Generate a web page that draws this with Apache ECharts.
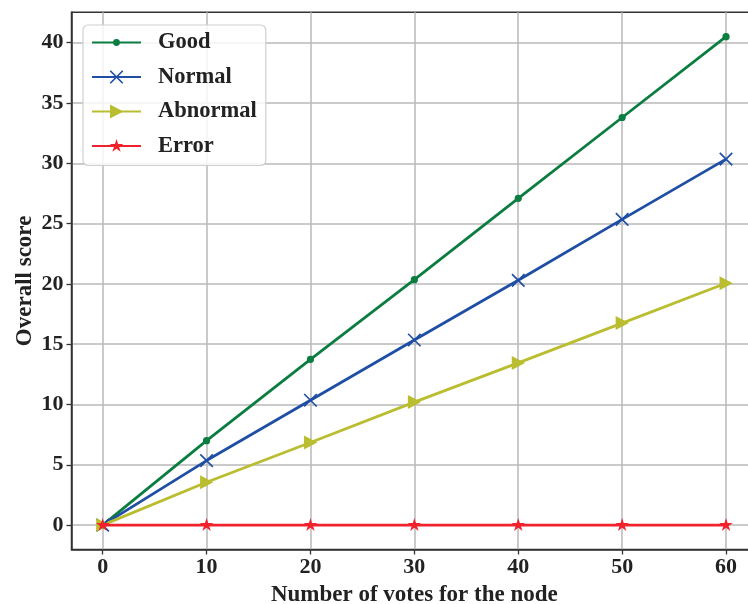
<!DOCTYPE html>
<html><head><meta charset="utf-8">
<script src="https://cdn.jsdelivr.net/npm/echarts@6/dist/echarts.min.js"></script>
<style>html,body{margin:0;padding:0;background:#fff}#c{width:748px;height:604px}</style>
</head><body><div id="c"></div>
<script>
const votes = [0, 10, 20, 30, 40, 50, 60];
const good = [0, 7.0, 13.75, 20.35, 27.1, 33.8, 40.5];
const normal = [0, 5.35, 10.35, 15.35, 20.3, 25.35, 30.35];
const abnormal = [0, 3.55, 6.85, 10.2, 13.45, 16.75, 20.05];
const errorVals = [0, 0, 0, 0, 0, 0, 0];
const seriesNames = ['Good', 'Normal', 'Abnormal', 'Error'];
const xTicks = [0, 10, 20, 30, 40, 50, 60];
const yTicks = [0, 5, 10, 15, 20, 25, 30, 35, 40];

const FONT = '"Liberation Serif", "Times New Roman", serif';
const pair = (arr) => votes.map((v, i) => [v, arr[i]]);
// marker shapes padded inside a square box (tiny corner specks fix the bounding box)
const CORNERS = 'M0,0 L0.1,0 L0,0.1 Z M100,100 L99.9,100 L100,99.9 Z ';
const DOT_PATH = 'path://' + CORNERS + 'M31,50 A19,19 0 1,0 69,50 A19,19 0 1,0 31,50 Z';
const X_PATH = 'path://' + CORNERS + 'M12,18.5 L18.5,12 L88,81.5 L81.5,88 Z M81.5,12 L88,18.5 L18.5,88 L12,81.5 Z';
const TRI_PATH = 'path://' + CORNERS + 'M14,11 L88,50 L14,89 Z';
const STAR_PATH = 'path://' + CORNERS + 'M50,11 L58.8,38.3 L87.6,38.3 L64.4,55.2 L73.2,82.6 L50,65.5 L26.8,82.6 L35.6,55.2 L12.4,38.3 L41.2,38.3 Z';

const chart = echarts.init(document.getElementById('c'), null, {renderer: 'canvas'});
function mk(name, data, color, symbol, size, extra) {
  return Object.assign({
    name, type: 'line', data: pair(data), symbol, symbolSize: size,
    lineStyle: {color, width: 2.8}, itemStyle: {color},
    emphasis: {disabled: true}, animation: false, z: 3
  }, extra || {});
}
chart.setOption({
  backgroundColor: '#fff',
  animation: false,
  grid: {left: 71.5, top: 12.3, width: 685.7, height: 537.2, show: true, containLabel: false,
    outerBoundsMode: 'none',
    borderColor: '#333', borderWidth: 1.5, backgroundColor: 'transparent'},
  xAxis: {
    type: 'value', min: -3, max: 63, interval: 10,
    name: 'Number of votes for the node', nameLocation: 'middle', nameGap: 34, nameMoveOverlap: false,
    nameTextStyle: {fontFamily: FONT, fontWeight: 'bold', fontSize: 23, color: '#222'},
    axisLine: {show: true, onZero: false, lineStyle: {color: '#333', width: 1.5}},
    axisTick: {show: true, inside: false, length: 5, lineStyle: {color: '#333', width: 1.3}, customValues: xTicks},
    axisLabel: {fontFamily: FONT, fontWeight: 'bold', fontSize: 22, color: '#222', margin: 7,
      customValues: xTicks, showMinLabel: true, showMaxLabel: true},
    splitLine: {show: true, lineStyle: {color: '#b8b8b8', width: 1.5}},
  },
  yAxis: {
    type: 'value', min: -2.025, max: 42.525,
    name: 'Overall score', nameLocation: 'middle', nameGap: 35, nameRotate: 90, nameMoveOverlap: false,
    nameTextStyle: {fontFamily: FONT, fontWeight: 'bold', fontSize: 23, color: '#222'},
    axisLine: {show: true, onZero: false, lineStyle: {color: '#333', width: 1.5}},
    axisTick: {show: true, inside: false, length: 5, lineStyle: {color: '#333', width: 1.3}, customValues: yTicks},
    axisLabel: {fontFamily: FONT, fontWeight: 'bold', fontSize: 22, color: '#222', margin: 8, customValues: yTicks},
    splitLine: {show: true, lineStyle: {color: '#b8b8b8', width: 1.5}},
  },
  legend: {
    show: true, data: seriesNames, orient: 'vertical', left: 83, top: 25,
    backgroundColor: 'rgba(255,255,255,0.82)', borderColor: '#d0d0d0', borderWidth: 1.2, borderRadius: 5,
    padding: [6, 9, 8, 8], itemGap: 11.5, itemWidth: 49, itemHeight: 22.5,
    textStyle: {fontFamily: FONT, fontWeight: 'bold', fontSize: 22.5, lineHeight: 22, color: '#222', padding: [0, 0, 0, 12]}
  },
  series: [
    mk('Good', good, '#0b7d40', DOT_PATH, 19),
    mk('Normal', normal, '#1f4ea5', X_PATH, 18),
    mk('Abnormal', abnormal, '#b9bd2f', TRI_PATH, 18),
    mk('Error', errorVals, '#f2222c', STAR_PATH, 18, {z: 4}),
  ]
});
</script></body></html>
